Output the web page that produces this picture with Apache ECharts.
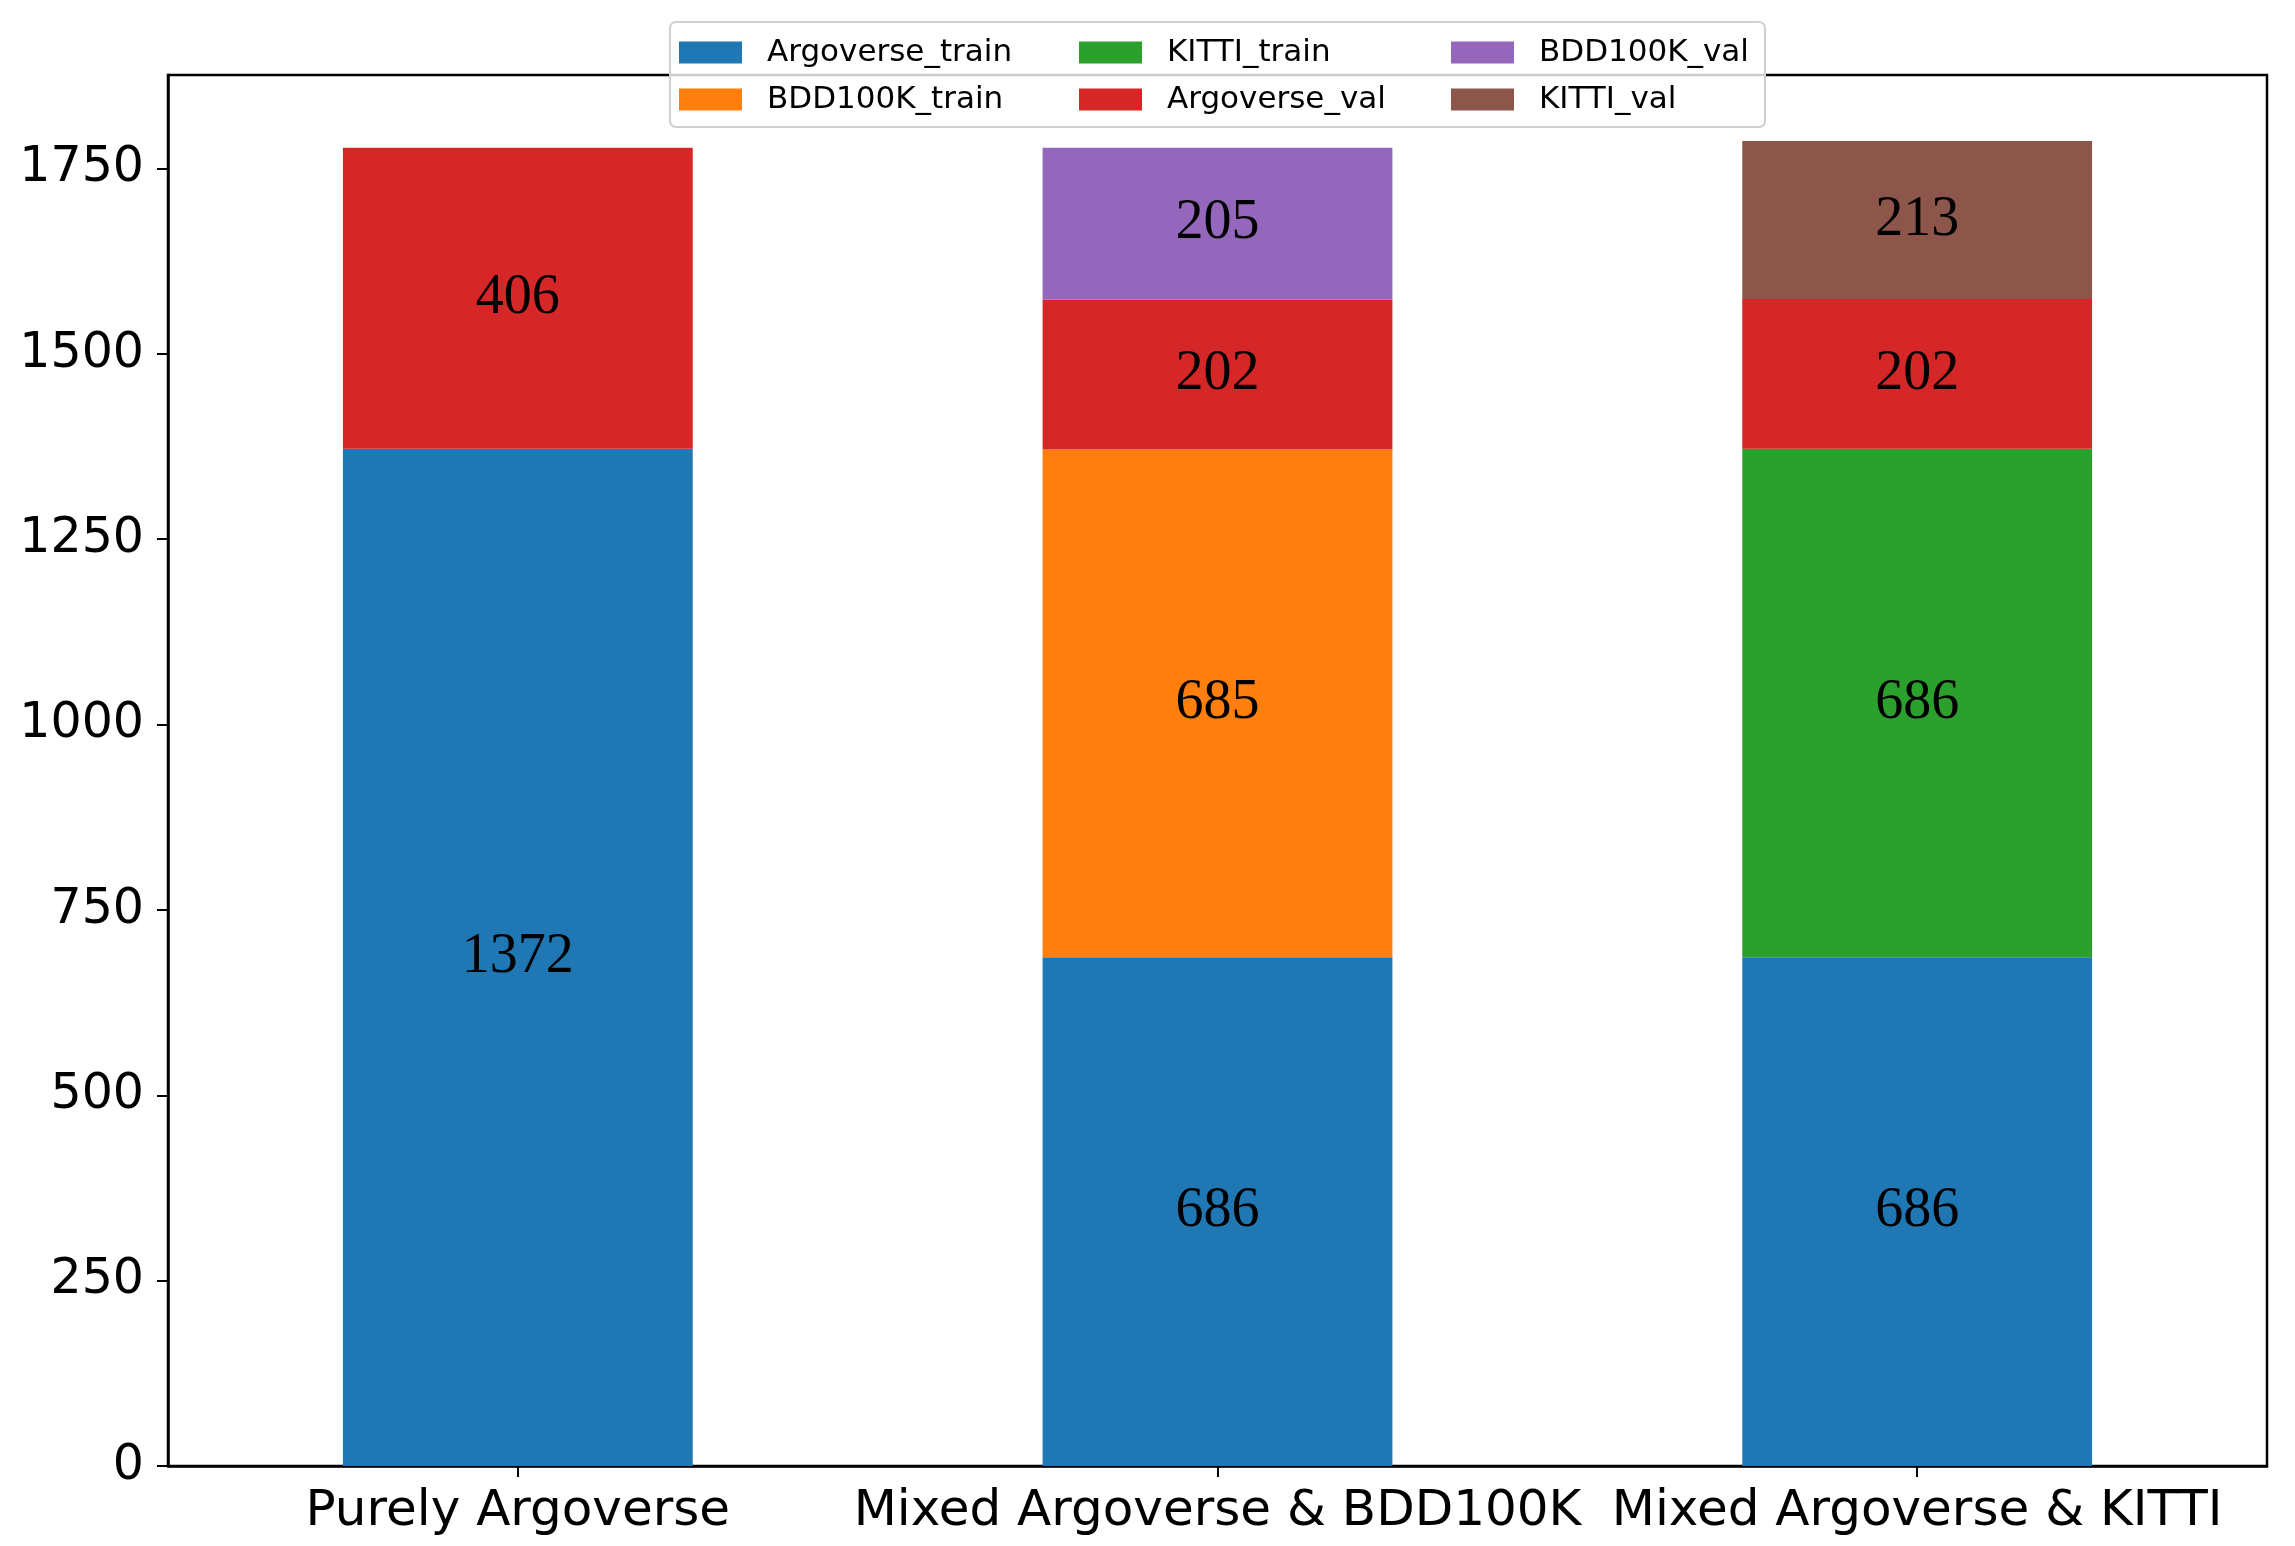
<!DOCTYPE html>
<html>
<head>
<meta charset="utf-8">
<script src="https://cdn.jsdelivr.net/npm/echarts@6/dist/echarts.min.js"></script>
<style>
html,body{margin:0;padding:0;background:#fff;}
#chart{width:2295px;height:1546px;}
</style>
</head>
<body>
<div id="chart"></div>
<script>
const categories = ['Purely Argoverse', 'Mixed Argoverse & BDD100K', 'Mixed Argoverse & KITTI'];
const argoverseTrain = [1372, 686, 686];
const bdd100kTrain = [null, 685, null];
const kittiTrain = [null, null, 686];
const argoverseVal = [406, 202, 202];
const bdd100kVal = [null, 205, null];
const kittiVal = [null, null, 213];
const yTicks = [0, 250, 500, 750, 1000, 1250, 1500, 1750];
const yMax = 1876;

const seriesDefs = [
  {name: 'Argoverse_train', data: argoverseTrain, color: '#1f77b4'},
  {name: 'BDD100K_train', data: bdd100kTrain, color: '#ff7f0e'},
  {name: 'KITTI_train', data: kittiTrain, color: '#2ca02c'},
  {name: 'Argoverse_val', data: argoverseVal, color: '#d62728'},
  {name: 'BDD100K_val', data: bdd100kVal, color: '#9467bd'},
  {name: 'KITTI_val', data: kittiVal, color: '#8c564b'}
];

const legendCommon = {
  orient: 'vertical',
  top: 37,
  padding: 0,
  itemWidth: 63,
  itemHeight: 22,
  itemGap: 16,
  icon: 'rect',
  selectedMode: false,
  z: 60,
  textStyle: {fontFamily: 'DejaVu Sans', fontSize: 31, color: '#000', lineHeight: 22, padding: [0, 0, 0, 20]}
};

const chart = echarts.init(document.getElementById('chart'), null, {renderer: 'canvas'});
chart.setOption({
  backgroundColor: '#fff',
  animation: false,
  grid: {left: 168, right: 28, top: 75, bottom: 80, show: true, borderColor: '#000', borderWidth: 2.5, backgroundColor: 'transparent'},
  graphic: [{
    type: 'rect', z: 50,
    shape: {x: 670, y: 22, width: 1095, height: 105, r: 6},
    style: {fill: 'rgba(255,255,255,0.8)', stroke: '#d0d0d0', lineWidth: 2}
  }],
  legend: [
    Object.assign({}, legendCommon, {left: 679, data: ['Argoverse_train', 'BDD100K_train']}),
    Object.assign({}, legendCommon, {left: 1079, data: ['KITTI_train', 'Argoverse_val']}),
    Object.assign({}, legendCommon, {left: 1451, data: ['BDD100K_val', 'KITTI_val']})
  ],
  xAxis: {
    type: 'category',
    data: categories,
    axisLine: {show: true, lineStyle: {color: '#000', width: 2.5}},
    axisTick: {show: true, alignWithLabel: true, length: 11, lineStyle: {color: '#000', width: 2}},
    axisLabel: {fontFamily: 'DejaVu Sans', fontSize: 50, color: '#000', margin: 21, interval: 0},
    splitLine: {show: false}
  },
  yAxis: {
    type: 'value',
    min: 0,
    max: yMax,
    axisLine: {show: true, lineStyle: {color: '#000', width: 2.5}},
    axisTick: {show: true, length: 11, lineStyle: {color: '#000', width: 2}, customValues: yTicks},
    axisLabel: {fontFamily: 'DejaVu Sans', fontSize: 49, color: '#000', margin: 24, customValues: yTicks, formatter: v => String(v)},
    splitLine: {show: false}
  },
  series: seriesDefs.map(s => ({
    name: s.name,
    type: 'bar',
    stack: 'total',
    barWidth: '50%',
    data: s.data,
    itemStyle: {color: s.color},
    label: {
      show: true,
      position: 'inside',
      formatter: p => (p.value == null ? '' : String(p.value)),
      fontFamily: 'Liberation Serif',
      fontSize: 56,
      color: '#000'
    }
  }))
});
</script>
</body>
</html>
